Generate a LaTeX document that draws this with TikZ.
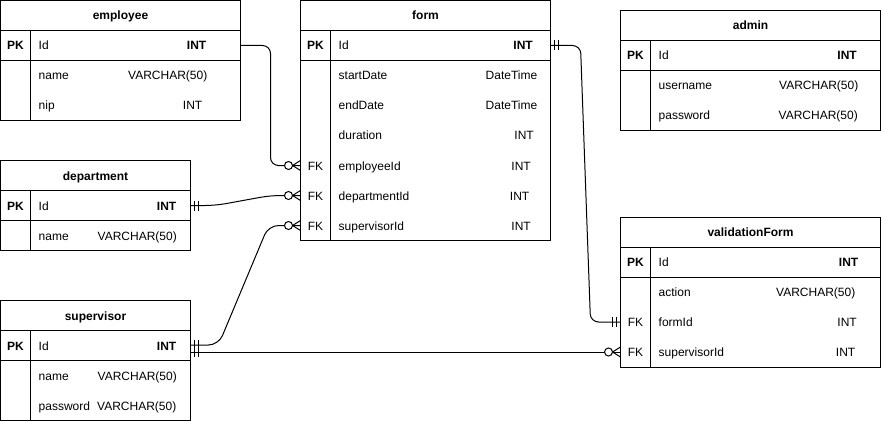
\documentclass[tikz,border=0pt]{standalone}
\usepackage{fontspec}
\setmainfont{Liberation Sans}
\tikzset{
  tbox/.style={draw, line width=1pt, outer sep=0pt, inner sep=0pt, anchor=north west},
  tline/.style={line width=1pt},
  txt/.style={font=\fontsize{12}{14}\selectfont, inner sep=0pt},
  btxt/.style={font=\fontsize{12}{14}\selectfont\bfseries, inner sep=0pt},
  conn/.style={line width=1pt},
}
\newcommand\ertable[6]{% name, x, y, w, h, title
  \node[tbox, minimum width=#4pt, minimum height=#5pt] (#1) at (#2,#3) {};
  \draw[tline] ([yshift=-30pt]#1.north west) -- ([yshift=-30pt]#1.north east);
  \draw[tline] ([yshift=-60pt]#1.north west) -- ([yshift=-60pt]#1.north east);
  \draw[tline] ([shift={(30pt,-30pt)}]#1.north west) -- ([xshift=30pt]#1.south west);
  \node[btxt, anchor=base] (#1-title) at ([yshift=-19.5pt]#1.north) {#6};
}
\newcommand\pkrow[4]{% table, field, type, type right offset
  \node[btxt, anchor=base] (#1-pk) at ([shift={(15pt,-49.5pt)}]#1.north west) {PK};
  \node[txt, anchor=base west] (#1-pkf) at ([shift={(38pt,-49.5pt)}]#1.north west) {#2};
  \node[btxt, anchor=base east] (#1-pkt) at ([shift={(#4pt,-49.5pt)}]#1.north west) {#3};
}
\newcommand\frow[6]{% table, row index, key, field, type, type right offset
  \node[txt, anchor=base] (#1-k#2) at ([shift={(15pt,{-49.5pt-30pt*#2})}]#1.north west) {#3};
  \node[txt, anchor=base west] (#1-f#2) at ([shift={(38pt,{-49.5pt-30pt*#2})}]#1.north west) {#4};
  \node[txt, anchor=base east] (#1-t#2) at ([shift={(#6pt,{-49.5pt-30pt*#2})}]#1.north west) {#5};
}
\newcommand\mandone[2]{% coordinate, direction
  \draw[conn] ([shift={({#2*4pt},5pt)}]#1) -- ([shift={({#2*4pt},-5pt)}]#1);
  \draw[conn] ([shift={({#2*8pt},5pt)}]#1) -- ([shift={({#2*8pt},-5pt)}]#1);
}
\newcommand\zeromany[2]{% coordinate, direction
  \draw[conn] ([shift={({#2*8pt},0pt)}]#1) -- ([shift={(0pt,5pt)}]#1);
  \draw[conn] ([shift={({#2*8pt},0pt)}]#1) -- ([shift={(0pt,-5pt)}]#1);
  \draw[conn, fill=white] ([shift={({#2*12pt},0pt)}]#1) circle[radius=4pt];
}
\begin{document}
\begin{tikzpicture}[x=1pt,y=-1pt]
\useasboundingbox (0,0) rectangle (882,422);

% tables
\ertable{employee}{0.5}{0.5}{240}{120}{employee}
\pkrow{employee}{Id}{INT}{206}
\frow{employee}{1}{}{name}{VARCHAR(50)}{207}
\frow{employee}{2}{}{nip}{INT}{202}

\ertable{form}{300.5}{0.5}{250}{240}{form}
\pkrow{form}{Id}{INT}{232.5}
\frow{form}{1}{}{startDate}{DateTime}{237}
\frow{form}{2}{}{endDate}{DateTime}{237}
\frow{form}{3}{}{duration}{INT}{233.5}
\frow{form}{4}{FK}{employeeId}{INT}{230.5}
\frow{form}{5}{FK}{departmentId}{INT}{229}
\frow{form}{6}{FK}{supervisorId}{INT}{230.5}

\ertable{admin}{620.5}{10.5}{260}{120}{admin}
\pkrow{admin}{Id}{INT}{236.5}
\frow{admin}{1}{}{username}{VARCHAR(50)}{238}
\frow{admin}{2}{}{password}{VARCHAR(50)}{237.5}

\ertable{department}{0.5}{160.5}{190}{90}{department}
\pkrow{department}{Id}{INT}{176}
\frow{department}{1}{}{name}{VARCHAR(50)}{176.5}

\ertable{supervisor}{0.5}{300.5}{190}{120}{supervisor}
\pkrow{supervisor}{Id}{INT}{176}
\frow{supervisor}{1}{}{name}{VARCHAR(50)}{176.5}
\frow{supervisor}{2}{}{password}{VARCHAR(50)}{176}

\ertable{validationForm}{620.5}{217}{260}{150}{validationForm}
\pkrow{validationForm}{Id}{INT}{238}
\frow{validationForm}{1}{}{action}{VARCHAR(50)}{235}
\frow{validationForm}{2}{FK}{formId}{INT}{236.5}
\frow{validationForm}{3}{FK}{supervisorId}{INT}{235}

% connector end points
\coordinate (empIdR) at ([yshift=-45pt]employee.north east);
\coordinate (formIdR) at ([yshift=-45pt]form.north east);
\coordinate (formEmpL) at ([yshift=-165pt]form.north west);
\coordinate (formDepL) at ([yshift=-195pt]form.north west);
\coordinate (formSupL) at ([yshift=-225pt]form.north west);
\coordinate (depIdR) at ([yshift=-45pt]department.north east);
\coordinate (supIdR) at ([yshift=-44.5pt]supervisor.north east);
\coordinate (supIdR2) at ([yshift=-51.5pt]supervisor.north east);
\coordinate (vfFormL) at ([yshift=-105pt]validationForm.north west);
\coordinate (vfSupL) at ([yshift=-135pt]validationForm.north west);

% connectors
\draw[conn, rounded corners=8pt] (empIdR) -- ++(30,0) |- (formEmpL);
\draw[conn, rounded corners=10pt] (depIdR) -- ++(25,0) -- ([xshift=-30pt]formDepL) -- (formDepL);
\draw[conn, rounded corners=10pt] (supIdR) -- ++(28,0) -- ([xshift=-32pt]formSupL) -- (formSupL);
\draw[conn, rounded corners=8pt] (formIdR) -- ++(30,0) -- ([xshift=-30pt]vfFormL) -- (vfFormL);
\draw[conn] (supIdR2) -- (vfSupL);

% markers
\zeromany{formEmpL}{-1}
\zeromany{formDepL}{-1}
\zeromany{formSupL}{-1}
\zeromany{vfSupL}{-1}
\mandone{depIdR}{1}
\mandone{supIdR}{1}
\mandone{supIdR2}{1}
\mandone{formIdR}{1}
\mandone{vfFormL}{-1}
\end{tikzpicture}
\end{document}
